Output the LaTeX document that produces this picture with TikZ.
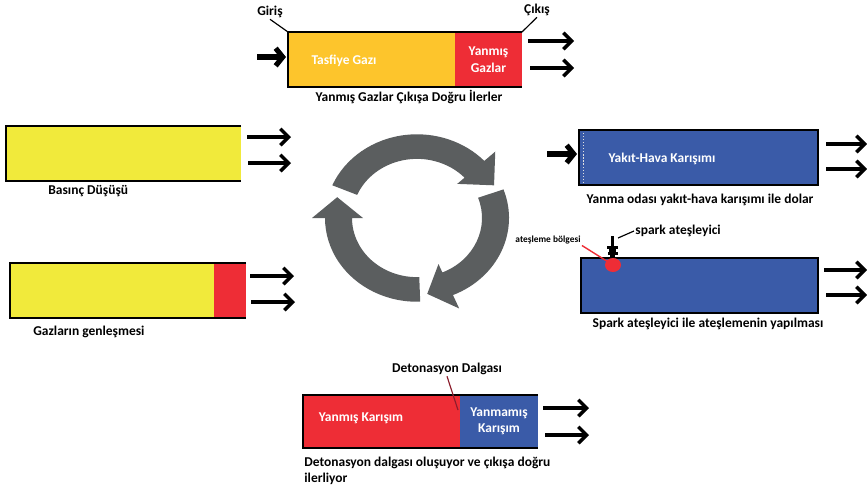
\documentclass[tikz,border=0pt]{standalone}
\usepackage{fontspec}
\setmainfont{Carlito}
\usetikzlibrary{arrows.meta,fit,shapes.geometric}

\definecolor{purgeorange}{RGB}{253,197,44}
\definecolor{burnred}{RGB}{238,45,54}
\definecolor{chamberyellow}{RGB}{241,234,59}
\definecolor{mixblue}{RGB}{58,91,168}
\definecolor{cyclegray}{RGB}{91,94,95}
\definecolor{wavered}{RGB}{140,30,45}

\tikzset{
  region/.style={inner sep=0pt, outer sep=0pt, draw=none},
  rim/.style={line width=1.5pt, line join=miter},
  flow/.style={line width=2.7pt, -{Straight Barb[length=7pt,width=14pt,line width=3pt]}},
  inflow/.style={line width=4.4pt, -{Straight Barb[length=6pt,width=15pt]}},
  boxtext/.style={text=white, font=\fontsize{11.5}{14}\selectfont\bfseries, align=center, inner sep=1pt},
  caption/.style={font=\fontsize{11.5}{13.6}\selectfont\bfseries, inner sep=1pt},
  pointer/.style={line width=1pt},
  cyc/.style={fill=cyclegray},
}

\begin{document}
\begin{tikzpicture}[x=0.03cm, y=0.03cm]
\useasboundingbox (0,0) rectangle (867,-490);

% ---------- scavenging: purge gas pushes burnt gases out ----------
\node[region, fill=purgeorange, fit={(288,-32) (455,-87)}] (purge) {};
\node[region, fill=burnred, fit={(455,-32) (522,-87)}] (burnt) {};
\draw[rim] (burnt.north east) -- (purge.north west) -- (purge.south west) -- (burnt.south east);
\node[boxtext] (purgetxt) at (344,-61) {Tasfiye Gazı};
\node[boxtext] (burnttxt) at (burnt.center) {Yanmış\\Gazlar};
\node[caption] (giris) at (270,-12) {Giriş};
\node[caption] (cikis) at (537,-10) {Çıkış};
\draw[pointer] (giris.south) -- (purge.north west);
\draw[pointer] (cikis.south) -- (burnt.north east);
\coordinate (in1a) at (257,-57); \coordinate (in1b) at (286,-57);
\draw[inflow] (in1a) -- (in1b);
\coordinate (o1a) at (528,-41); \coordinate (o1b) at (574,-41);
\coordinate (o2a) at (530,-68); \coordinate (o2b) at (574,-68);
\draw[flow] (o1a) -- (o1b);
\draw[flow] (o2a) -- (o2b);
\node[caption] (cap1) at (409,-97) {Yanmış Gazlar Çıkışa Doğru İlerler};

% ---------- fresh charge fills the chamber ----------
\node[region, fill=mixblue, fit={(579,-130) (818,-185)}] (charge) {};
\draw[rim] (charge.north west) rectangle (charge.south east);
\draw[white!75!gray, line width=0.8pt, dash pattern=on 1pt off 1.6pt] (583.5,-133) -- (583.5,-182);
\node[boxtext] (chargetxt) at (662,-159) {Yakıt-Hava Karışımı};
\coordinate (in2a) at (547,-154); \coordinate (in2b) at (577,-154);
\draw[inflow] (in2a) -- (in2b);
\coordinate (o3a) at (826,-144); \coordinate (o3b) at (867,-144);
\coordinate (o4a) at (826,-169); \coordinate (o4b) at (867,-169);
\draw[flow] (o3a) -- (o3b);
\draw[flow] (o4a) -- (o4b);
\node[caption] (cap2) at (700,-200) {Yanma odası yakıt-hava karışımı ile dolar};

% ---------- spark ignition ----------
\node[region, fill=mixblue, fit={(581,-258) (818,-313)}] (ignbox) {};
\draw[rim] (ignbox.north west) rectangle (ignbox.south east);
% spark plug
\fill (611,-236) rectangle (613.8,-246);
\fill (607,-246) rectangle (618,-248.6);
\fill (609,-249.4) rectangle (616,-251.6);
\fill (607.5,-252.4) rectangle (617.5,-254.8);
\fill (610,-254.8) rectangle (615,-258);
\coordinate (plug) at (618,-238);
\node[caption, anchor=west] (sparklbl) at (634,-231) {spark ateşleyici};
\draw[pointer] (plug) -- (sparklbl.west);
\node[font=\fontsize{8}{9}\selectfont\bfseries, inner sep=1pt] (zonelbl) at (548,-240) {ateşleme bölgesi};
\draw[burnred, line width=1.2pt] (zonelbl.south east) -- (613,-265);
\node[ellipse, fill=burnred, inner sep=0pt, minimum width=0.48cm, minimum height=0.42cm] (ignition) at (613,-265) {};
\coordinate (o5a) at (824,-270); \coordinate (o5b) at (867,-270);
\coordinate (o6a) at (826,-295); \coordinate (o6b) at (867,-295);
\draw[flow] (o5a) -- (o5b);
\draw[flow] (o6a) -- (o6b);
\node[caption] (cap3) at (708,-324) {Spark ateşleyici ile ateşlemenin yapılması};

% ---------- detonation wave ----------
\node[region, fill=burnred, fit={(303,-395) (460,-448)}] (burnmix) {};
\node[region, fill=mixblue, fit={(460,-395) (538,-448)}] (freshmix) {};
\draw[rim] (freshmix.north east) -- (burnmix.north west) -- (burnmix.south west) -- (freshmix.south east);
\node[boxtext] (burnmixtxt) at (361,-418) {Yanmış Karışım};
\node[boxtext] (freshmixtxt) at (499,-421.5) {Yanmamış\\Karışım};
\node[caption] (wave) at (447,-369) {Detonasyon Dalgası};
\coordinate (front) at (458,-410);
\draw[wavered, line width=1pt] (wave.south) -- (front);
\coordinate (o7a) at (543,-408); \coordinate (o7b) at (589,-408);
\coordinate (o8a) at (545,-435); \coordinate (o8b) at (589,-435);
\draw[flow] (o7a) -- (o7b);
\draw[flow] (o8a) -- (o8b);
\node[caption, anchor=west, align=left] (cap4) at (303,-471) {Detonasyon dalgası oluşuyor ve çıkışa doğru\\ilerliyor};

% ---------- expansion ----------
\node[region, fill=chamberyellow, fit={(10,-263) (214,-318)}] (expgas) {};
\node[region, fill=burnred, fit={(214,-263) (246,-318)}] (expfront) {};
\draw[rim] (expfront.north east) -- (expgas.north west) -- (expgas.south west) -- (expfront.south east);
\coordinate (o9a) at (250,-276); \coordinate (o9b) at (294,-276);
\coordinate (o10a) at (251,-302); \coordinate (o10b) at (295,-302);
\draw[flow] (o9a) -- (o9b);
\draw[flow] (o10a) -- (o10b);
\node[caption, anchor=west] (cap5) at (32,-332) {Gazların genleşmesi};

% ---------- blowdown ----------
\node[region, fill=chamberyellow, fit={(6,-126) (241,-181)}] (blow) {};
\draw[rim] (blow.north east) -- (blow.north west) -- (blow.south west) -- (blow.south east);
\coordinate (o11a) at (247,-137); \coordinate (o11b) at (291,-137);
\coordinate (o12a) at (248,-163); \coordinate (o12b) at (291,-163);
\draw[flow] (o11a) -- (o11b);
\draw[flow] (o12a) -- (o12b);
\node[caption, anchor=west] (cap6) at (47,-191) {Basınç Düşüşü};

% ---------- cycle arrows ----------
\begin{scope}[shift={(417,-218)}, yscale=0.91]
  \fill[cyc] (157:92) arc[start angle=157, end angle=43, radius=92]
    -- (43:107) -- (25:85) -- (43:55) -- (43:65)
    arc[start angle=43, end angle=157, radius=65] -- cycle;
  \fill[cyc] (20:92) arc[start angle=20, end angle=-67, radius=92]
    -- (-67:108) -- (-83:84) -- (-67:55) -- (-67:65)
    arc[start angle=-67, end angle=20, radius=65] -- cycle;
  \fill[cyc] (-88:92) arc[start angle=-88, end angle=-180, radius=92]
    -- (180:105) -- (164:83) -- (180:54) -- (180:65)
    arc[start angle=-180, end angle=-88, radius=65] -- cycle;
\end{scope}
\end{tikzpicture}
\end{document}
